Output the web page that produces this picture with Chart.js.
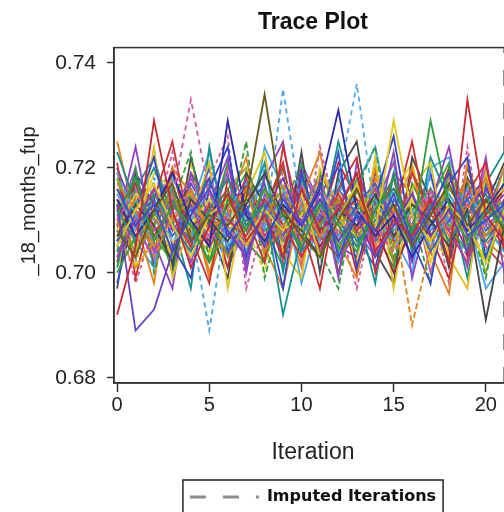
<!DOCTYPE html>
<html><head><meta charset="utf-8">
<script src="https://cdn.jsdelivr.net/npm/chart.js@4"></script>
<style>
html,body{margin:0;padding:0;overflow:hidden;background:#fff;width:504px;height:512px}
#wrap{position:absolute;left:0;top:0;width:520px;height:530px}
</style></head>
<body><div id="wrap"><canvas id="c" width="520" height="530"></canvas></div>
<script>
// ---- data ----
const iterations = [0,1,2,3,4,5,6,7,8,9,10,11,12,13,14,15,16,17,18,19,20,21];
const chain01 = [.716,.709,.713,.704,.711,.718,.707,.712,.705,.714,.709,.717,.703,.711,.708,.715,.706,.712,.719,.707,.710,.713];
const chain02 = [.692,.705,.729,.712,.701,.709,.715,.706,.711,.703,.716,.708,.712,.719,.704,.710,.707,.714,.702,.733,.711,.706];
const chain03 = [.711,.718,.706,.713,.709,.702,.714,.708,.716,.711,.705,.713,.709,.704,.712,.718,.707,.729,.713,.706,.712,.709];
const chain04 = [.708,.703,.712,.717,.706,.711,.709,.714,.734,.712,.707,.703,.710,.716,.708,.713,.705,.711,.717,.709,.714,.708];
const chain05 = [.713,.689,.693,.704,.711,.716,.708,.703,.712,.718,.709,.714,.706,.711,.703,.709,.715,.707,.712,.704,.716,.710];
const chain06 = [.705,.712,.717,.709,.703,.711,.714,.706,.712,.708,.715,.703,.710,.717,.708,.729,.711,.706,.713,.709,.702,.712];
const chain07 = [.719,.711,.706,.713,.709,.689,.712,.717,.708,.735,.712,.706,.711,.716,.714,.708,.712,.705,.711,.716,.709,.713];
const chain08 = [.710,.716,.708,.714,.733,.715,.709,.703,.711,.706,.713,.718,.707,.712,.709,.704,.711,.716,.708,.713,.705,.711];
const chain09 = [.714,.707,.712,.719,.710,.705,.729,.711,.706,.713,.709,.716,.731,.712,.707,.711,.703,.709,.714,.708,.712,.717];
const chain10 = [.709,.714,.703,.711,.716,.708,.712,.705,.710,.717,.706,.712,.708,.714,.709,.711,.690,.705,.712,.718,.707,.711];
const chain11 = [.712,.706,.715,.709,.704,.712,.718,.709,.713,.692,.707,.714,.710,.705,.712,.716,.708,.713,.706,.711,.715,.708];
const chain12 = [.707,.713,.709,.702,.714,.710,.706,.713,.719,.711,.708,.703,.712,.709,.715,.707,.713,.710,.705,.712,.691,.709];
const chain13 = [.715,.708,.712,.706,.710,.716,.705,.711,.709,.714,.707,.712,.717,.736,.711,.706,.713,.708,.715,.710,.704,.712];
const chain14 = [.703,.710,.716,.708,.713,.705,.711,.718,.707,.712,.710,.704,.713,.709,.716,.711,.706,.714,.708,.702,.711,.715];
const chain15 = [.710,.704,.709,.715,.707,.712,.703,.709,.716,.706,.712,.709,.714,.707,.711,.705,.713,.709,.716,.711,.707,.713];
const chain16 = [.717,.712,.705,.710,.714,.708,.711,.716,.704,.709,.713,.707,.711,.716,.705,.712,.709,.714,.707,.712,.718,.706];
const chain17 = [.706,.711,.714,.707,.712,.709,.704,.710,.713,.708,.715,.711,.706,.713,.717,.709,.712,.704,.710,.714,.708,.712];
const chain18 = [.712,.717,.708,.711,.705,.713,.710,.707,.714,.709,.703,.710,.715,.708,.712,.706,.719,.711,.708,.713,.710,.705];
const chain19 = [.700,.707,.711,.716,.710,.702,.709,.714,.711,.706,.712,.709,.705,.711,.714,.708,.712,.716,.709,.704,.712,.710];
const chain20 = [.714,.709,.703,.712,.718,.711,.707,.712,.709,.715,.706,.711,.713,.708,.703,.711,.707,.713,.710,.716,.709,.712];
const chain21 = [.708,.715,.711,.706,.709,.714,.710,.705,.713,.708,.711,.716,.710,.707,.712,.709,.714,.702,.711,.707,.713,.716];
const chain22 = [.723,.713,.709,.714,.707,.710,.715,.712,.708,.711,.704,.709,.713,.706,.710,.713,.708,.711,.715,.709,.706,.711];
const chain23 = [.711,.705,.713,.710,.716,.706,.711,.708,.713,.702,.710,.714,.708,.711,.707,.712,.710,.715,.706,.712,.710,.708];
const chain24 = [.709,.712,.707,.713,.709,.711,.716,.706,.710,.714,.711,.707,.703,.709,.713,.716,.711,.707,.712,.709,.714,.711];
const chain25 = [.704,.709,.716,.711,.706,.712,.709,.714,.710,.707,.713,.710,.716,.711,.706,.709,.713,.708,.711,.714,.707,.710];
const chain26 = [.718,.711,.707,.703,.710,.714,.708,.711,.706,.712,.708,.713,.709,.712,.716,.710,.705,.712,.709,.711,.715,.707];
const chain27 = [.713,.707,.711,.714,.709,.706,.713,.716,.710,.708,.712,.705,.711,.714,.709,.700,.709,.714,.712,.708,.711,.716];
const chain28 = [.710,.714,.710,.707,.713,.709,.712,.708,.711,.716,.710,.713,.707,.711,.709,.714,.712,.707,.710,.713,.709,.704];
const chain29 = [.707,.701,.706,.713,.715,.712,.709,.714,.711,.707,.712,.716,.710,.708,.713,.707,.711,.713,.706,.710,.713,.709];
const chain30 = [.715,.710,.713,.709,.707,.714,.711,.706,.712,.710,.714,.709,.712,.710,.706,.711,.715,.709,.712,.706,.710,.713];
const chain31 = [.698,.712,.722,.705,.699,.716,.724,.703,.713,.697,.719,.708,.723,.701,.714,.726,.706,.698,.717,.722,.703,.714];
const chain32 = [.721,.699,.714,.725,.707,.698,.718,.711,.702,.724,.709,.697,.716,.722,.700,.711,.725,.707,.699,.715,.721,.704];
const chain33 = [.704,.720,.700,.713,.723,.702,.709,.725,.699,.712,.721,.704,.697,.716,.724,.703,.711,.698,.720,.712,.699,.718];
const chain34 = [.716,.703,.724,.699,.710,.721,.697,.715,.723,.704,.699,.720,.713,.702,.722,.697,.716,.721,.703,.697,.719,.706];
const chain35 = [.709,.724,.706,.697,.719,.713,.722,.700,.718,.725,.704,.716,.699,.721,.707,.723,.699,.713,.724,.706,.722,.700];
const chain36 = [.725,.710,.698,.720,.715,.700,.712,.722,.705,.697,.714,.723,.706,.699,.718,.712,.720,.704,.696,.721,.709,.720];
const chain37 = [.701,.716,.722,.710,.697,.724,.705,.711,.721,.700,.718,.708,.725,.712,.698,.719,.704,.722,.714,.699,.717,.723];
const chain38 = [.712,.698,.709,.723,.704,.718,.726,.697,.710,.719,.702,.724,.710,.697,.713,.721,.709,.715,.698,.724,.704,.709];
const chain39 = [.697,.719,.713,.701,.722,.709,.699,.719,.713,.702,.723,.700,.719,.725,.704,.698,.722,.714,.701,.718,.713,.721];
const chain40 = [.720,.706,.701,.718,.712,.723,.708,.704,.724,.716,.698,.711,.702,.717,.724,.707,.700,.720,.722,.711,.697,.702];
const chain41 = [.702,.715,.709,.720,.706,.713,.701,.717,.710,.704,.719,.707,.714,.700,.712,.718,.705,.711,.720,.703,.714,.709];
const chain42 = [.718,.705,.712,.700,.716,.709,.721,.706,.702,.715,.711,.719,.704,.713,.708,.701,.717,.710,.706,.718,.702,.714];
const chain43 = [.706,.719,.701,.714,.710,.720,.704,.712,.717,.703,.710,.715,.720,.707,.701,.714,.709,.719,.704,.711,.717,.705];
const chain44 = [.714,.701,.717,.708,.721,.703,.715,.709,.700,.718,.712,.704,.709,.719,.711,.704,.720,.702,.714,.709,.703,.718];
const chain45 = [.710,.720,.704,.716,.702,.712,.719,.701,.715,.708,.721,.713,.702,.708,.717,.710,.703,.716,.711,.701,.719,.712];
const chain46 = [.719,.708,.714,.703,.713,.699,.710,.718,.706,.712,.701,.716,.711,.705,.720,.702,.713,.709,.718,.714,.706,.703];
const chain47 = [.703,.713,.720,.711,.705,.717,.712,.702,.719,.709,.714,.703,.718,.710,.713,.721,.704,.710,.702,.717,.711,.720];
const chain48 = [.716,.710,.702,.718,.712,.707,.720,.713,.704,.711,.717,.706,.713,.719,.703,.709,.716,.700,.713,.708,.720,.707];
const chain49 = [.708,.717,.713,.704,.719,.710,.703,.716,.712,.720,.706,.718,.700,.712,.716,.706,.719,.713,.705,.720,.709,.704];
const chain50 = [.712,.702,.718,.714,.701,.721,.710,.707,.720,.705,.713,.701,.717,.709,.704,.716,.711,.718,.710,.703,.715,.719];
const chain51 = [.705,.716,.710,.719,.708,.704,.716,.720,.703,.713,.708,.719,.712,.716,.710,.706,.714,.704,.719,.712,.700,.713];
const chain52 = [.720,.711,.704,.709,.717,.711,.701,.709,.714,.707,.720,.712,.705,.703,.719,.713,.702,.716,.708,.714,.718,.710];
const chain53 = [.709,.703,.716,.712,.714,.718,.707,.704,.712,.721,.703,.709,.721,.714,.706,.719,.715,.707,.712,.716,.705,.701];
const chain54 = [.713,.718,.707,.702,.715,.706,.713,.719,.709,.701,.716,.710,.707,.718,.712,.702,.708,.714,.721,.705,.712,.716];
const chain55 = [.701,.709,.719,.716,.704,.714,.718,.710,.707,.716,.702,.713,.716,.706,.709,.715,.721,.706,.703,.717,.710,.714];
const imputedIterations = [21];
const xTickValues = [0,5,10,15,20];
const yTickValues = [0.68,0.70,0.72,0.74];

const chains = [chain01,chain02,chain03,chain04,chain05,chain06,chain07,chain08,chain09,chain10,
  chain11,chain12,chain13,chain14,chain15,chain16,chain17,chain18,chain19,chain20,
  chain21,chain22,chain23,chain24,chain25,chain26,chain27,chain28,chain29,chain30,
  chain31,chain32,chain33,chain34,chain35,chain36,chain37,chain38,chain39,chain40,
  chain41,chain42,chain43,chain44,chain45,chain46,chain47,chain48,chain49,chain50,
  chain51,chain52,chain53,chain54,chain55];

// ---- styles ----
const lineColors = ['#3c4bd6','#c62833','#2e9b3c','#6b5a1e','#6a3fc0','#e3c81c','#4aa6ec','#d3589e','#2a2aa8','#e4801d',
  '#17918d','#444444','#56aef0','#b83d8f','#8f9a1f','#e5801c','#3c5fd6','#d0343a','#3da33a','#9a4fd0',
  '#e8cf28','#1a8f88','#e06aa5','#8a5a2a','#5a62c8','#6fbf3a','#a3203a','#3bb0c9','#d9a21a','#b07ae0',
  '#3346d0','#cc2f2f','#2f9f3f','#e0c020','#8e44c4','#e4801d','#17918d','#d3589e','#4a4a4a','#4aa6ec',
  '#c62833','#2e9b3c','#3c4bd6','#e3c81c','#9a4fd0','#e4801d','#17918d','#d3589e','#8a5a2a','#4aa6ec',
  '#a4ab22','#6a3fc0','#d0343a','#3da33a','#e8cf28'];
const dashedChains = {6:[5,4],7:[5,4],9:[6,3],12:[5,4],22:[3,3],27:[8,4],32:[6,3],37:[4,3],43:[6,3],49:[4,3]};
const FONT = '"Liberation Sans", Arial, sans-serif';
const Y_MIN = 0.679, Y_MAX = 0.7429, X_MIN = -0.17, X_MAX = 21.42;

const datasets = chains.map((c, i) => ({
  label: 'Chain ' + (i + 1),
  data: iterations.map((it, k) => ({x: it, y: c[k]})),
  borderColor: lineColors[i],
  borderWidth: 1.8,
  borderDash: dashedChains[i] || [],
  pointRadius: 0,
  fill: false,
  tension: 0
}));
imputedIterations.forEach(it => datasets.push({
  label: 'Imputed Iterations',
  data: [{x: it, y: Y_MIN}, {x: it, y: Y_MAX}],
  borderColor: '#8c8c8c',
  borderWidth: 2.5,
  borderDash: [16, 17],
  pointRadius: 0,
  pointStyle: 'line',
  fill: false
}));

const framePlugin = {
  id: 'frame',
  afterDatasetsDraw(chart) {
    const a = chart.chartArea, ctx = chart.ctx;
    ctx.save();
    ctx.strokeStyle = '#333';
    ctx.lineWidth = 1.5;
    ctx.strokeRect(a.left, a.top, a.right - a.left, a.bottom - a.top);
    ctx.restore();
  },
  afterDraw(chart) {
    const ctx = chart.ctx;
    const hb = chart.legend && chart.legend.legendHitBoxes && chart.legend.legendHitBoxes[0];
    if (hb) {
      ctx.save();
      ctx.strokeStyle = '#222';
      ctx.lineWidth = 1.5;
      ctx.strokeRect(hb.left - 7, hb.top - 9, hb.width + 14, hb.height + 30);
      ctx.restore();
    }
    ctx.save();
    ctx.translate(29, 201);
    ctx.rotate(-Math.PI / 2);
    ctx.font = '20px ' + FONT;
    ctx.fillStyle = '#222';
    ctx.textAlign = 'center';
    ctx.textBaseline = 'middle';
    ctx.fillText('_18_months_fup', 0, 0);
    ctx.restore();
  }
};

new Chart(document.getElementById('c'), {
  type: 'line',
  data: { datasets },
  options: {
    responsive: false,
    animation: false,
    events: [],
    layout: { padding: { left: 0, right: 8, top: 0, bottom: 15 } },
    plugins: {
      title: {
        display: true, text: 'Trace Plot', fullSize: false, color: '#111',
        font: { family: FONT, size: 23, weight: 'bold' },
        padding: { top: 9, bottom: 11 }
      },
      legend: {
        display: true, position: 'bottom', fullSize: false,
        labels: {
          filter: item => item.text === 'Imputed Iterations',
          generateLabels: chart => Chart.defaults.plugins.legend.labels.generateLabels(chart).map(l => {
            const ds = chart.data.datasets[l.datasetIndex];
            l.lineDash = ds.borderDash;
            l.lineWidth = 3;
            return l;
          }),
          usePointStyle: true, pointStyle: 'line', pointStyleWidth: 69,
          padding: 23, color: '#111',
          font: { family: '"DejaVu Sans", Verdana, sans-serif', size: 16, weight: 'bold' }
        }
      },
      tooltip: { enabled: false }
    },
    scales: {
      x: {
        type: 'linear', min: X_MIN, max: X_MAX,
        afterBuildTicks: s => { s.ticks = xTickValues.map(v => ({value: v})); },
        afterFit: s => { s.height = 83; },
        grid: { drawOnChartArea: false, drawTicks: true, tickLength: 9, tickColor: '#333', tickWidth: 1.5 },
        border: { display: true, color: '#333', width: 1.5 },
        ticks: { padding: 1, maxRotation: 0, autoSkip: false, color: '#222',
          font: { family: FONT, size: 20 }, callback: v => String(v) },
        title: { display: true, text: 'Iteration', color: '#222',
          font: { family: FONT, size: 23 }, padding: { top: 0, bottom: 0 } }
      },
      y: {
        type: 'linear', min: Y_MIN, max: Y_MAX,
        afterBuildTicks: s => { s.ticks = yTickValues.map(v => ({value: v})); },
        afterFit: s => { s.width = 114; },
        grid: { drawOnChartArea: false, drawTicks: true, tickLength: 7, tickColor: '#333', tickWidth: 1.5 },
        border: { display: true, color: '#333', width: 1.5 },
        ticks: { padding: 11, color: '#222', font: { family: FONT, size: 21 },
          callback: v => Number(v).toFixed(2) }
      }
    }
  },
  plugins: [framePlugin]
});
</script>
</body></html>
